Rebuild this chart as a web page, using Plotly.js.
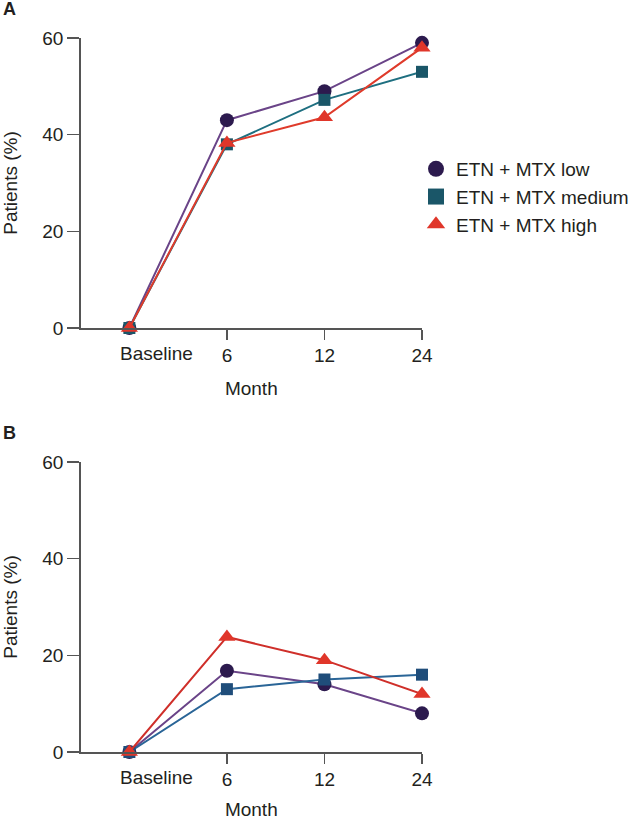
<!DOCTYPE html>
<html>
<head>
<meta charset="utf-8">
<script src="https://cdn.plot.ly/plotly-3.0.1.min.js"></script>
<style>html,body{margin:0;padding:0;background:#fff;}#chart{width:634px;height:820px;}</style>
</head>
<body>
<div id="chart"></div>
<script>
// Categories (x axis)
const months = ["Baseline", "6", "12", "24"];
const tickedMonths = ["6", "12", "24"];
const yTicks = [0, 20, 40, 60];

// Series names
const seriesNames = ["ETN + MTX low", "ETN + MTX medium", "ETN + MTX high"];

// Panel A values (% patients)
const panelA_low = [0, 43, 49, 59];
const panelA_medium = [0, 38, 47.2, 53];
const panelA_high = [0, 38.3, 43.6, 58];

// Panel B values (% patients)
const panelB_low = [0, 16.8, 14, 8];
const panelB_medium = [0, 13, 15, 16];
const panelB_high = [0, 23.8, 19, 12];

const FONT = "Liberation Sans, Arial, sans-serif";
const TXT = "#231f20";

const styleA = [
  {line: "#6a4488", marker: "#2c1a4e", symbol: "circle", size: 14},
  {line: "#1e6f80", marker: "#1a5668", symbol: "square", size: 12},
  {line: "#df3b2b", marker: "#e0362a", symbol: "triangle-up", size: 15}
];
const styleB = [
  {line: "#6a4488", marker: "#2c1a4e", symbol: "circle", size: 14},
  {line: "#2a6597", marker: "#1f4d7a", symbol: "square", size: 12},
  {line: "#cf2f2a", marker: "#e0362a", symbol: "triangle-up", size: 15}
];

function mk(vals, i, st, xa, ya) {
  return {
    type: "scatter", mode: "lines+markers",
    x: months, y: vals, xaxis: xa, yaxis: ya,
    name: seriesNames[i], showlegend: false,
    line: {color: st.line, width: 2},
    marker: {color: st.marker, symbol: st.symbol, size: st.size},
    cliponaxis: false
  };
}
// legend-only entries (marker symbol without line)
function legendEntry(i, st) {
  return {
    type: "scatter", mode: "markers",
    x: [months[0]], y: [null], xaxis: "x", yaxis: "y",
    name: seriesNames[i], showlegend: true, legendrank: i + 1,
    marker: {color: st.marker, symbol: st.symbol, size: 17}
  };
}

const data = [
  mk(panelA_low, 0, styleA[0], "x", "y"),
  mk(panelA_medium, 1, styleA[1], "x", "y"),
  mk(panelA_high, 2, styleA[2], "x", "y"),
  mk(panelB_low, 0, styleB[0], "x2", "y2"),
  mk(panelB_medium, 1, styleB[1], "x2", "y2"),
  mk(panelB_high, 2, styleB[2], "x2", "y2"),
  legendEntry(0, styleA[0]),
  legendEntry(1, styleA[1]),
  legendEntry(2, styleA[2])
];

const xDom = [81/634, 424/634];
function xAxis(anchor, standoff) {
  return {
    type: "category", categoryorder: "array", categoryarray: months,
    range: [-0.5, 3], domain: xDom, anchor: anchor,
    tickmode: "array", tickvals: tickedMonths, ticktext: tickedMonths,
    ticks: "outside", ticklen: 10, tickwidth: 1.5, tickcolor: "#555",
    showline: true, linecolor: "#555", linewidth: 1.5,
    showgrid: false, zeroline: false, fixedrange: true,
    tickfont: {family: FONT, size: 19, color: TXT},
    title: {text: "Month", font: {family: FONT, size: 19, color: TXT}, standoff: standoff}
  };
}
function yAxis(anchor, dom) {
  return {
    range: [0, 60], domain: dom, anchor: anchor,
    tickmode: "array", tickvals: yTicks,
    ticks: "outside", ticklen: 12, tickwidth: 1.5, tickcolor: "#555",
    showline: true, linecolor: "#555", linewidth: 1.5,
    showgrid: false, zeroline: false, fixedrange: true,
    tickfont: {family: FONT, size: 19, color: TXT},
    title: {text: "Patients (%)", font: {family: FONT, size: 19, color: TXT}, standoff: 24}
  };
}

const layout = {
  width: 634, height: 820,
  margin: {l: 0, r: 0, t: 0, b: 0},
  paper_bgcolor: "#fff", plot_bgcolor: "#fff",
  font: {family: FONT, color: TXT},
  xaxis: xAxis("y", 16),
  yaxis: yAxis("x", [1 - 328/820, 1 - 38/820]),
  xaxis2: xAxis("y2", 19),
  yaxis2: yAxis("x2", [1 - 752/820, 1 - 462/820]),
  legend: {
    x: 418/634, xanchor: "left", y: 1 - 197/820, yanchor: "middle",
    font: {family: FONT, size: 19, color: TXT},
    bgcolor: "rgba(0,0,0,0)", borderwidth: 0, tracegroupgap: 0
  },
  annotations: [
    {text: "<b>A</b>", xref: "paper", yref: "paper", x: 1/634, y: 1 - 9/820,
     xanchor: "left", yanchor: "middle", showarrow: false, font: {family: FONT, size: 18, color: TXT}},
    {text: "<b>B</b>", xref: "paper", yref: "paper", x: 1/634, y: 1 - 433/820,
     xanchor: "left", yanchor: "middle", showarrow: false, font: {family: FONT, size: 18, color: TXT}},
    {text: months[0], xref: "x", yref: "y", x: 0, y: 0, xshift: 27, yshift: -25,
     xanchor: "center", yanchor: "middle", showarrow: false, font: {family: FONT, size: 19, color: TXT}},
    {text: months[0], xref: "x2", yref: "y2", x: 0, y: 0, xshift: 27, yshift: -25,
     xanchor: "center", yanchor: "middle", showarrow: false, font: {family: FONT, size: 19, color: TXT}}
  ]
};

Plotly.newPlot("chart", data, layout, {displayModeBar: false, staticPlot: true});
</script>
</body>
</html>
